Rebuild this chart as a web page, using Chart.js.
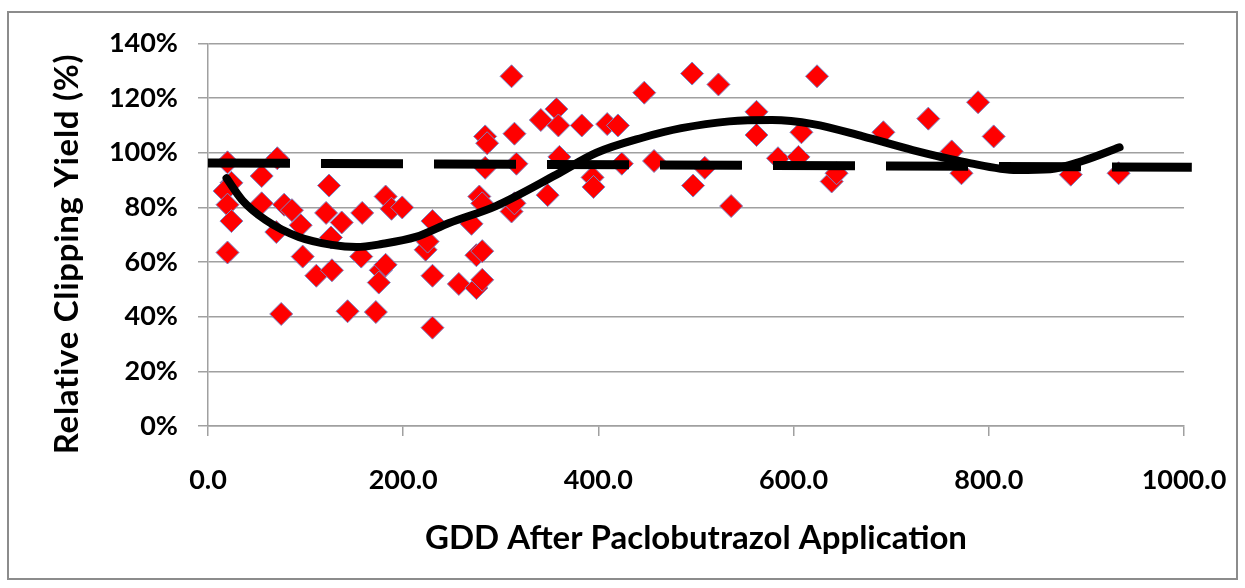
<!DOCTYPE html>
<html>
<head>
<meta charset="utf-8">
<title>Relative Clipping Yield vs GDD</title>
<script src="https://cdn.jsdelivr.net/npm/chart.js"></script>
<style>
  html, body { margin: 0; padding: 0; background: #fff; }
  #wrap { position: relative; width: 1245px; height: 588px; }
  #frame { position: absolute; left: 7px; top: 11px; width: 1231px; height: 569px; border: 2px solid #8c8c8c; box-sizing: border-box; }
  canvas { position: absolute; left: 0; top: 0; }
</style>
</head>
<body>
<div id="wrap">
  <div id="frame"></div>
  <canvas id="chart" width="1245" height="588"></canvas>
</div>
<script>
// SCATTER DATA (GDD, relative yield in %)
const gdd = [20, 24, 17, 20, 24, 20, 55, 71, 55, 78, 86, 70, 95, 97, 75,
    124, 121, 126, 137, 111, 127, 143, 158, 157, 172, 182, 188, 199, 177, 182, 175,
    230, 223, 225, 230, 230, 257, 270, 275, 281, 275, 281, 278, 281, 284, 286, 284,
    311, 314, 316, 311, 314, 341, 348, 357, 359, 360, 383, 394, 395, 409, 420, 424,
    447, 457, 496, 497, 509, 523, 536, 562, 562, 584, 605, 608, 624, 639, 644,
    692, 738, 762, 772, 789, 805, 884, 933];
const yieldPct = [96.5, 89, 86, 81, 75, 63.5, 91.5, 98, 81.5, 81, 79, 71, 73.5, 62, 41,
    88, 78, 69, 74.5, 55, 57, 42, 78, 62, 41.7, 84, 79.5, 80, 57, 59, 52.5,
    75, 64.5, 67.5, 55, 36, 52, 74, 62.5, 64, 50.5, 53.5, 84, 81.5, 106, 103.5, 94.5,
    128, 107, 96, 78.5, 81.5, 112, 84.5, 116, 110, 98.5, 110, 91, 87.5, 110.5, 110, 96,
    122, 97, 129, 88, 94.5, 125, 80.5, 115, 106.5, 98, 98.5, 107.5, 128, 89.5, 92.5,
    107.5, 112.5, 100.5, 92.5, 118.5, 106, 92, 92.5];

// POLYNOMIAL TREND (solid)
const curveGdd = [19, 35, 59, 93, 127, 152, 178, 213, 247, 295, 357, 398, 445, 485,
    534, 578, 620, 671, 722, 777, 829, 863, 896, 934];
const curvePct = [90.7, 82.7, 75.4, 69.2, 66.3, 65.5, 66.6, 69.2, 74.3, 80.5, 92, 100, 105.5, 109,
    111.5, 112, 110.5, 106, 101, 96.5, 93.7, 94, 97, 102];

// LINEAR TREND (dashed)
const linGdd = [0, 1008];
const linPct = [96.3, 94.7];

// AXES
const xTicks = [0, 200, 400, 600, 800, 1000];
const yTicks = [0, 20, 40, 60, 80, 100, 120, 140];
const xTitle = "GDD After Paclobutrazol Application";
const yTitle = "Relative Clipping Yield (%)";

const tickFont = { family: "Lato", size: 27, weight: "bold" };
const xTitleFont = { family: "Lato", size: 33, weight: "bold" };
const gridColor = "#a0a0a0";

function toPts(xs, ys) {
    return xs.map((x, i) => ({ x: x, y: ys[i] }));
}

// y title sits a bit below the axis centre in the original, so draw it by hand
const yTitlePlugin = {
    id: "yTitle",
    afterDraw(chart) {
        const c = chart.ctx;
        c.save();
        c.translate(67, 254);
        c.rotate(-Math.PI / 2);
        c.font = "bold 33px Lato";
        c.letterSpacing = "0.7px";
        c.fillStyle = "#000";
        c.textAlign = "center";
        c.textBaseline = "middle";
        c.fillText(yTitle, 0, 0);
        c.restore();
    }
};

new Chart(document.getElementById("chart"), {
    type: "scatter",
    data: {
        datasets: [
            {
                type: "line",
                data: toPts(curveGdd, curvePct),
                borderColor: "#000",
                borderWidth: 8,
                borderCapStyle: "round",
                cubicInterpolationMode: "monotone",
                pointRadius: 0,
                fill: false,
                order: 1
            },
            {
                type: "line",
                data: toPts(linGdd, linPct),
                borderColor: "#000",
                borderWidth: 9,
                borderDash: [82, 31],
                borderCapStyle: "butt",
                pointRadius: 0,
                fill: false,
                clip: false,
                order: 2
            },
            {
                data: toPts(gdd, yieldPct),
                pointStyle: "rectRot",
                pointRadius: 11.5,
                backgroundColor: "#ff0000",
                borderColor: "#7a86c6",
                borderWidth: 1,
                order: 3
            }
        ]
    },
    options: {
        responsive: false,
        animation: false,
        layout: { padding: { top: 43.5, right: 61, bottom: 0, left: 0 } },
        plugins: {
            legend: { display: false },
            tooltip: { enabled: false }
        },
        scales: {
            x: {
                type: "linear",
                min: 0,
                max: 1000,
                afterFit: s => { s.height = 162; s.paddingLeft = 0; s.paddingRight = 0; },
                afterBuildTicks: s => { s.ticks = xTicks.map(v => ({ value: v })); },
                ticks: { callback: v => v.toFixed(1), font: tickFont, color: "#000", padding: 28, maxRotation: 0 },
                grid: { drawOnChartArea: false, color: gridColor, lineWidth: 1.5, tickLength: 10 },
                border: { color: gridColor, width: 1.5 },
                title: { display: true, text: xTitle, font: xTitleFont, color: "#000", padding: { top: 0, bottom: 30 } }
            },
            y: {
                type: "linear",
                min: 0,
                max: 140,
                afterFit: s => { s.width = 208; s.paddingTop = 0; s.paddingBottom = 0; },
                afterBuildTicks: s => { s.ticks = yTicks.map(v => ({ value: v })); },
                ticks: { callback: v => v + "%", font: tickFont, color: "#000", padding: 20 },
                grid: { color: gridColor, lineWidth: 1.5, tickLength: 10 },
                border: { color: gridColor, width: 1.5 }
            }
        }
    },
    plugins: [yTitlePlugin]
});
</script>
</body>
</html>
